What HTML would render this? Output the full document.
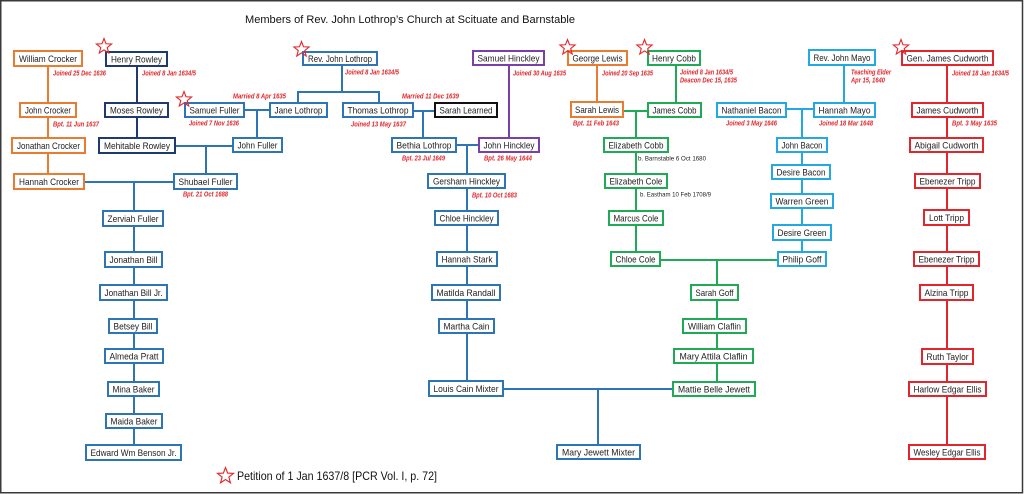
<!DOCTYPE html>
<html><head><meta charset="utf-8"><style>
html,body{margin:0;padding:0;background:#fff;}
svg{display:block;}
.b{fill:#fff;stroke-width:2;}
.t{font-family:"Liberation Sans",sans-serif;font-size:9.5px;fill:#222;text-anchor:middle;}
.a{font-family:"Liberation Sans",sans-serif;font-size:7px;font-weight:bold;font-style:italic;fill:#e3262b;}
.s{font-family:"Liberation Sans",sans-serif;font-size:6.5px;fill:#222;}
.l{fill:none;stroke-width:2;}
.star{fill:none;stroke:#e3262b;stroke-width:1.1;}
</style></head><body>
<svg width="1024" height="494" viewBox="0 0 1024 494" xmlns="http://www.w3.org/2000/svg">
<rect x="0" y="0" width="1024" height="494" fill="#fff"/>
<rect x="0.75" y="0.75" width="1021.75" height="492" fill="none" stroke="#3a3a3a" stroke-width="1.5"/>
<defs>
<polygon id="st" points="0,-8 2,-2.75 7.61,-2.47 3.23,1.05 4.7,6.47 0,3.4 -4.7,6.47 -3.23,1.05 -7.61,-2.47 -2,-2.75"/>
</defs>

<!-- title -->
<text x="245" y="23" font-family="Liberation Sans, sans-serif" font-size="11" fill="#111" textLength="330" lengthAdjust="spacingAndGlyphs">Members of Rev. John Lothrop’s Church at Scituate and Barnstable</text>

<!-- connectors -->
<g class="l" stroke="#e97c30">
<line x1="48" y1="67" x2="48" y2="173"/>
<line x1="597" y1="66" x2="597" y2="101"/>
</g>
<g class="l" stroke="#1f3a6e">
<line x1="137" y1="67" x2="137" y2="137"/>
</g>
<g class="l" stroke="#2e75b6">
<line x1="85" y1="182" x2="173" y2="182"/>
<line x1="134" y1="182" x2="134" y2="444"/>
<line x1="176" y1="146" x2="232" y2="146"/>
<line x1="206" y1="146" x2="206" y2="173"/>
<line x1="245" y1="110" x2="269" y2="110"/>
<line x1="257" y1="110" x2="257" y2="137"/>
<line x1="342" y1="66" x2="342" y2="92"/>
<line x1="297" y1="92" x2="380" y2="92"/>
<line x1="298" y1="92" x2="298" y2="102"/>
<line x1="379" y1="92" x2="379" y2="102"/>
<line x1="414" y1="111" x2="434" y2="111"/>
<line x1="423" y1="111" x2="423" y2="137"/>
<line x1="457" y1="145" x2="478" y2="145"/>
<line x1="467" y1="145" x2="467" y2="380"/>
<line x1="504" y1="389" x2="672" y2="389"/>
<line x1="598" y1="389" x2="598" y2="444"/>
</g>
<g class="l" stroke="#7b3fa8">
<line x1="509" y1="66" x2="509" y2="137"/>
</g>
<g class="l" stroke="#1faa55">
<line x1="676" y1="66" x2="676" y2="102"/>
<line x1="624" y1="111" x2="647" y2="111"/>
<line x1="636" y1="111" x2="636" y2="251"/>
<line x1="661" y1="260" x2="777" y2="260"/>
<line x1="717" y1="260" x2="717" y2="381"/>
</g>
<g class="l" stroke="#22a9e1">
<line x1="844" y1="66" x2="844" y2="102"/>
<line x1="787" y1="109" x2="813" y2="109"/>
<line x1="802" y1="109" x2="802" y2="251"/>
</g>
<g class="l" stroke="#e3262b">
<line x1="947" y1="66" x2="947" y2="444"/>
</g>

<!-- orange boxes -->
<g stroke="#e97c30">
<rect class="b" x="14" y="51" width="68" height="15"/>
<rect class="b" x="20" y="103" width="56" height="14"/>
<rect class="b" x="12" y="138" width="73" height="15"/>
<rect class="b" x="14" y="174" width="70" height="15"/>
<rect class="b" x="568" y="51" width="59" height="14"/>
<rect class="b" x="571" y="102" width="52" height="15"/>
</g>
<!-- navy -->
<g stroke="#1f3a6e">
<rect class="b" x="106" y="52" width="61" height="14"/>
<rect class="b" x="105" y="103" width="63" height="14"/>
<rect class="b" x="99" y="138" width="76" height="15"/>
</g>
<!-- blue -->
<g stroke="#2e75b6">
<rect class="b" x="185" y="103" width="59" height="14"/>
<rect class="b" x="270" y="103" width="57" height="14"/>
<rect class="b" x="233" y="138" width="49" height="14"/>
<rect class="b" x="174" y="174" width="63" height="15"/>
<rect class="b" x="303" y="52" width="74" height="13"/>
<rect class="b" x="343" y="103" width="70" height="14"/>
<rect class="b" x="392" y="138" width="64" height="14"/>
<rect class="b" x="428" y="174" width="77" height="14"/>
<rect class="b" x="435" y="211" width="63" height="14"/>
<rect class="b" x="437" y="252" width="60" height="14"/>
<rect class="b" x="432" y="285" width="68" height="15"/>
<rect class="b" x="439" y="319" width="55" height="14"/>
<rect class="b" x="429" y="381" width="74" height="15"/>
<rect class="b" x="557" y="445" width="83" height="14"/>
<rect class="b" x="103" y="211" width="60" height="15"/>
<rect class="b" x="105" y="252" width="57" height="15"/>
<rect class="b" x="100" y="285" width="67" height="15"/>
<rect class="b" x="109" y="319" width="48" height="14"/>
<rect class="b" x="105" y="349" width="58" height="14"/>
<rect class="b" x="108" y="382" width="51" height="14"/>
<rect class="b" x="106" y="414" width="56" height="14"/>
<rect class="b" x="86" y="445" width="95" height="15"/>
</g>
<!-- black -->
<rect class="b" x="435" y="103" width="62" height="14" stroke="#111"/>
<!-- purple -->
<g stroke="#7b3fa8">
<rect class="b" x="473" y="51" width="71" height="14"/>
<rect class="b" x="479" y="138" width="60" height="14"/>
</g>
<!-- green -->
<g stroke="#1faa55">
<rect class="b" x="648" y="51" width="52" height="14"/>
<rect class="b" x="648" y="103" width="53" height="14"/>
<rect class="b" x="604" y="138" width="64" height="14"/>
<rect class="b" x="605" y="174" width="62" height="14"/>
<rect class="b" x="609" y="211" width="54" height="14"/>
<rect class="b" x="611" y="252" width="49" height="14"/>
<rect class="b" x="691" y="285" width="47" height="15"/>
<rect class="b" x="683" y="319" width="63" height="14"/>
<rect class="b" x="674" y="349" width="79" height="14"/>
<rect class="b" x="673" y="382" width="82" height="14"/>
</g>
<!-- light blue -->
<g stroke="#22a9e1">
<rect class="b" x="809" y="50" width="66" height="15"/>
<rect class="b" x="717" y="103" width="69" height="14"/>
<rect class="b" x="814" y="103" width="61" height="14"/>
<rect class="b" x="777" y="138" width="50" height="14"/>
<rect class="b" x="772" y="165" width="58" height="14"/>
<rect class="b" x="771" y="194" width="62" height="14"/>
<rect class="b" x="773" y="225" width="58" height="15"/>
<rect class="b" x="778" y="252" width="48" height="14"/>
</g>
<!-- red -->
<g stroke="#e3262b">
<rect class="b" x="902" y="51" width="91" height="14"/>
<rect class="b" x="912" y="103" width="71" height="14"/>
<rect class="b" x="910" y="138" width="73" height="14"/>
<rect class="b" x="915" y="174" width="65" height="14"/>
<rect class="b" x="924" y="210" width="45" height="15"/>
<rect class="b" x="914" y="252" width="65" height="14"/>
<rect class="b" x="920" y="285" width="53" height="15"/>
<rect class="b" x="922" y="349" width="51" height="15"/>
<rect class="b" x="909" y="382" width="77" height="14"/>
<rect class="b" x="909" y="445" width="76" height="14"/>
</g>

<!-- box labels -->
<g class="t">
<text x="48" y="62" textLength="58" lengthAdjust="spacingAndGlyphs">William Crocker</text>
<text x="48" y="113.5" textLength="46" lengthAdjust="spacingAndGlyphs">John Crocker</text>
<text x="48.5" y="149" textLength="63" lengthAdjust="spacingAndGlyphs">Jonathan Crocker</text>
<text x="49" y="185" textLength="60" lengthAdjust="spacingAndGlyphs">Hannah Crocker</text>
<text x="136.5" y="62.5" textLength="51" lengthAdjust="spacingAndGlyphs">Henry Rowley</text>
<text x="136.5" y="113.5" textLength="53" lengthAdjust="spacingAndGlyphs">Moses Rowley</text>
<text x="137" y="149" textLength="66" lengthAdjust="spacingAndGlyphs">Mehitable Rowley</text>
<text x="214.5" y="113.5" textLength="50" lengthAdjust="spacingAndGlyphs">Samuel Fuller</text>
<text x="298.5" y="113.5" textLength="48" lengthAdjust="spacingAndGlyphs">Jane Lothrop</text>
<text x="257.5" y="148.5" textLength="40" lengthAdjust="spacingAndGlyphs">John Fuller</text>
<text x="205.5" y="185" textLength="54" lengthAdjust="spacingAndGlyphs">Shubael Fuller</text>
<text x="340" y="62" textLength="64" lengthAdjust="spacingAndGlyphs">Rev. John Lothrop</text>
<text x="378" y="113.5" textLength="61" lengthAdjust="spacingAndGlyphs">Thomas Lothrop</text>
<text x="466" y="113.5" textLength="53" lengthAdjust="spacingAndGlyphs">Sarah Learned</text>
<text x="424" y="148.5" textLength="55" lengthAdjust="spacingAndGlyphs">Bethia Lothrop</text>
<text x="466.5" y="184.5" textLength="67" lengthAdjust="spacingAndGlyphs">Gersham Hinckley</text>
<text x="466.5" y="221.5" textLength="54" lengthAdjust="spacingAndGlyphs">Chloe Hinckley</text>
<text x="467" y="262.5" textLength="51" lengthAdjust="spacingAndGlyphs">Hannah Stark</text>
<text x="466" y="296" textLength="59" lengthAdjust="spacingAndGlyphs">Matilda Randall</text>
<text x="466.5" y="329.5" textLength="46" lengthAdjust="spacingAndGlyphs">Martha Cain</text>
<text x="466" y="392" textLength="65" lengthAdjust="spacingAndGlyphs">Louis Cain Mixter</text>
<text x="598.5" y="455.5" textLength="73" lengthAdjust="spacingAndGlyphs">Mary Jewett Mixter</text>
<text x="508.5" y="61.5" textLength="62" lengthAdjust="spacingAndGlyphs">Samuel Hinckley</text>
<text x="509" y="148.5" textLength="51" lengthAdjust="spacingAndGlyphs">John Hinckley</text>
<text x="597.5" y="61.5" textLength="50" lengthAdjust="spacingAndGlyphs">George Lewis</text>
<text x="597" y="113" textLength="44" lengthAdjust="spacingAndGlyphs">Sarah Lewis</text>
<text x="674" y="61.5" textLength="44" lengthAdjust="spacingAndGlyphs">Henry Cobb</text>
<text x="674.5" y="113.5" textLength="44" lengthAdjust="spacingAndGlyphs">James Cobb</text>
<text x="636" y="148.5" textLength="55" lengthAdjust="spacingAndGlyphs">Elizabeth Cobb</text>
<text x="636" y="184.5" textLength="53" lengthAdjust="spacingAndGlyphs">Elizabeth Cole</text>
<text x="636" y="221.5" textLength="45" lengthAdjust="spacingAndGlyphs">Marcus Cole</text>
<text x="635.5" y="262.5" textLength="40" lengthAdjust="spacingAndGlyphs">Chloe Cole</text>
<text x="714.5" y="296" textLength="38" lengthAdjust="spacingAndGlyphs">Sarah Goff</text>
<text x="714.5" y="329.5" textLength="53" lengthAdjust="spacingAndGlyphs">William Claflin</text>
<text x="713.5" y="359.5" textLength="68" lengthAdjust="spacingAndGlyphs">Mary Attila Claflin</text>
<text x="714" y="392.5" textLength="72" lengthAdjust="spacingAndGlyphs">Mattie Belle Jewett</text>
<text x="842" y="61" textLength="57" lengthAdjust="spacingAndGlyphs">Rev. John Mayo</text>
<text x="751.5" y="113.5" textLength="60" lengthAdjust="spacingAndGlyphs">Nathaniel Bacon</text>
<text x="844.5" y="113.5" textLength="52" lengthAdjust="spacingAndGlyphs">Hannah Mayo</text>
<text x="802" y="148.5" textLength="41" lengthAdjust="spacingAndGlyphs">John Bacon</text>
<text x="801" y="175.5" textLength="49" lengthAdjust="spacingAndGlyphs">Desire Bacon</text>
<text x="802" y="204.5" textLength="53" lengthAdjust="spacingAndGlyphs">Warren Green</text>
<text x="802" y="236" textLength="49" lengthAdjust="spacingAndGlyphs">Desire Green</text>
<text x="802" y="262.5" textLength="39" lengthAdjust="spacingAndGlyphs">Philip Goff</text>
<text x="947.5" y="61.5" textLength="82" lengthAdjust="spacingAndGlyphs">Gen. James Cudworth</text>
<text x="947.5" y="113.5" textLength="62" lengthAdjust="spacingAndGlyphs">James Cudworth</text>
<text x="946.5" y="148.5" textLength="64" lengthAdjust="spacingAndGlyphs">Abigail Cudworth</text>
<text x="947.5" y="184.5" textLength="56" lengthAdjust="spacingAndGlyphs">Ebenezer Tripp</text>
<text x="946.5" y="221" textLength="35" lengthAdjust="spacingAndGlyphs">Lott Tripp</text>
<text x="946.5" y="262.5" textLength="56" lengthAdjust="spacingAndGlyphs">Ebenezer Tripp</text>
<text x="946.5" y="296" textLength="44" lengthAdjust="spacingAndGlyphs">Alzina Tripp</text>
<text x="947.5" y="360" textLength="42" lengthAdjust="spacingAndGlyphs">Ruth Taylor</text>
<text x="947.5" y="392.5" textLength="68" lengthAdjust="spacingAndGlyphs">Harlow Edgar Ellis</text>
<text x="947" y="455.5" textLength="67" lengthAdjust="spacingAndGlyphs">Wesley Edgar Ellis</text>
<text x="133" y="222" textLength="51" lengthAdjust="spacingAndGlyphs">Zerviah Fuller</text>
<text x="133.5" y="263" textLength="48" lengthAdjust="spacingAndGlyphs">Jonathan Bill</text>
<text x="133.5" y="296" textLength="58" lengthAdjust="spacingAndGlyphs">Jonathan Bill Jr.</text>
<text x="133" y="329.5" textLength="39" lengthAdjust="spacingAndGlyphs">Betsey Bill</text>
<text x="134" y="359.5" textLength="49" lengthAdjust="spacingAndGlyphs">Almeda Pratt</text>
<text x="133.5" y="392.5" textLength="42" lengthAdjust="spacingAndGlyphs">Mina Baker</text>
<text x="134" y="424.5" textLength="47" lengthAdjust="spacingAndGlyphs">Maida Baker</text>
<text x="133.5" y="456" textLength="86" lengthAdjust="spacingAndGlyphs">Edward Wm Benson Jr.</text>
</g>

<!-- red annotations -->
<g class="a">
<text x="53" y="75.5" textLength="53" lengthAdjust="spacingAndGlyphs">Joined 25 Dec 1636</text>
<text x="142" y="75.5" textLength="54" lengthAdjust="spacingAndGlyphs">Joined 8 Jan 1634/5</text>
<text x="53" y="126.5" textLength="46" lengthAdjust="spacingAndGlyphs">Bpt. 11 Jun 1637</text>
<text x="233" y="98.5" textLength="53" lengthAdjust="spacingAndGlyphs">Married 8 Apr 1635</text>
<text x="189" y="125.5" textLength="50" lengthAdjust="spacingAndGlyphs">Joined 7 Nov 1636</text>
<text x="345" y="74.5" textLength="54" lengthAdjust="spacingAndGlyphs">Joined 8 Jan 1634/5</text>
<text x="402" y="98.5" textLength="57" lengthAdjust="spacingAndGlyphs">Married 11 Dec 1639</text>
<text x="351" y="126.5" textLength="55" lengthAdjust="spacingAndGlyphs">Joined 13 May 1637</text>
<text x="402" y="160.5" textLength="43" lengthAdjust="spacingAndGlyphs">Bpt. 23 Jul 1649</text>
<text x="183" y="196.5" textLength="45" lengthAdjust="spacingAndGlyphs">Bpt. 21 Oct 1688</text>
<text x="513" y="75.5" textLength="53" lengthAdjust="spacingAndGlyphs">Joined 30 Aug 1635</text>
<text x="484" y="160.5" textLength="48" lengthAdjust="spacingAndGlyphs">Bpt. 26 May 1644</text>
<text x="472" y="197.5" textLength="45" lengthAdjust="spacingAndGlyphs">Bpt. 10 Oct 1683</text>
<text x="602" y="75.5" textLength="51" lengthAdjust="spacingAndGlyphs">Joined 20 Sep 1635</text>
<text x="680" y="74.5" textLength="53" lengthAdjust="spacingAndGlyphs">Joined 8 Jan 1634/5</text>
<text x="680" y="82.5" textLength="57" lengthAdjust="spacingAndGlyphs">Deacon Dec 15, 1635</text>
<text x="573" y="125.5" textLength="46" lengthAdjust="spacingAndGlyphs">Bpt. 11 Feb 1643</text>
<text x="851" y="74.5" textLength="40" lengthAdjust="spacingAndGlyphs">Teaching Elder</text>
<text x="851" y="82.5" textLength="34" lengthAdjust="spacingAndGlyphs">Apr 15, 1640</text>
<text x="726" y="125.5" textLength="51" lengthAdjust="spacingAndGlyphs">Joined 3 May 1646</text>
<text x="819" y="125.5" textLength="54" lengthAdjust="spacingAndGlyphs">Joined 18 Mar 1648</text>
<text x="952" y="75.5" textLength="57" lengthAdjust="spacingAndGlyphs">Joined 18 Jan 1634/5</text>
<text x="952" y="125.5" textLength="45" lengthAdjust="spacingAndGlyphs">Bpt. 3 May 1635</text>
</g>

<!-- black small notes -->
<g class="s">
<text x="638" y="160.5" textLength="68" lengthAdjust="spacingAndGlyphs">b. Barnstable 6 Oct 1680</text>
<text x="640" y="196.5" textLength="71" lengthAdjust="spacingAndGlyphs">b. Eastham 10 Feb 1708/9</text>
</g>

<!-- stars -->
<g class="star">
<use href="#st" transform="translate(104,46.5)"/>
<use href="#st" transform="translate(184,99.5)"/>
<use href="#st" transform="translate(301.5,49.5)"/>
<use href="#st" transform="translate(567.5,47.5)"/>
<use href="#st" transform="translate(644.5,47.5)"/>
<use href="#st" transform="translate(901,47.5)"/>
<use href="#st" transform="translate(225.5,476) scale(1.05)"/>
</g>

<!-- legend -->
<text x="237" y="480" font-family="Liberation Sans, sans-serif" font-size="12" fill="#111" textLength="200" lengthAdjust="spacingAndGlyphs">Petition of 1 Jan 1637/8 [PCR Vol. I, p. 72]</text>
</svg>
</body></html>
